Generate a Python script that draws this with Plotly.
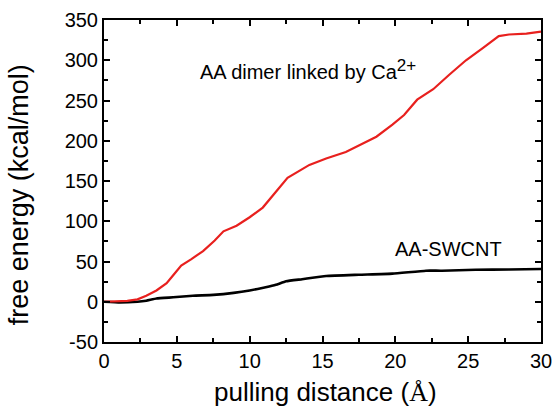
import plotly.graph_objects as go

# Data
ca_x = [0, 1, 1.6, 2.3, 2.9, 3.6, 4.3, 4.75, 5.3, 6.0, 6.8, 7.6, 8.2, 9.1, 10.0, 10.9, 11.8,
        12.6, 14.1, 15.25, 16.6, 17.4, 18.7, 19.8, 20.6, 21.5, 22.6, 23.7, 24.85, 26.0,
        27.1, 27.8, 29.0, 30]
ca_y = [0, 0.5, 1, 3, 7.5, 14, 23, 33, 45, 53, 63, 76, 87.5, 94.5, 105, 117, 136,
        154, 170, 178, 186, 193, 205, 220, 232, 251, 264, 282, 300, 315,
        330, 332, 333, 335.5]

cnt_x = [0, 1.1, 2.3, 2.9, 3.6, 4.75, 6.1, 7.5, 8.9, 10.0, 11.1, 11.8, 12.5, 13.6, 15.25,
         17.5, 19.8, 22.1, 23.2, 25.5, 27.8, 30]
cnt_y = [0, -1, 0, 1.3, 4, 5.5, 7.5, 8.5, 11, 14, 18, 21, 25.4, 28, 32,
         33.6, 35, 38.6, 38.6, 39.8, 40, 40.7]

x_tickvals = [0, 5, 10, 15, 20, 25, 30]
x_ticktext = ["0", "5", "10", "15", "20", "25", "30"]
y_tickvals = [-50, 0, 50, 100, 150, 200, 250, 300, 350]
y_ticktext = ["-50", "0", "50", "100", "150", "200", "250", "300", "350"]

font_main = "Arial, Liberation Sans, sans-serif"

fig = go.Figure()
fig.add_trace(go.Scatter(x=cnt_x, y=cnt_y, mode="lines",
                         line=dict(color="black", width=2.6, shape="spline", smoothing=0.4),
                         showlegend=False))
fig.add_trace(go.Scatter(x=ca_x, y=ca_y, mode="lines",
                         line=dict(color="#e8201e", width=2.2), showlegend=False))

axis_common = dict(
    showgrid=False, zeroline=False, showline=True, linecolor="black", linewidth=2,
    mirror="ticks", ticks="inside", ticklen=6, tickwidth=1.5, tickcolor="black",
    tickfont=dict(family=font_main, size=20, color="black"), automargin=False,
    ticklabeloverflow="allow",
)
fig.update_xaxes(range=[0, 30], tickmode="array", tickvals=x_tickvals, ticktext=x_ticktext,
                 minor=dict(ticks="inside", ticklen=4, tickwidth=1.5, tickcolor="black", dtick=2.5),
                 **axis_common)
fig.update_yaxes(range=[-50, 350], tickmode="array", tickvals=y_tickvals, ticktext=y_ticktext,
                 minor=dict(ticks="inside", ticklen=4, tickwidth=1.5, tickcolor="black", dtick=25),
                 **axis_common)

fig.add_annotation(x=6.45, y=289, xref="x", yref="y", xanchor="left", yanchor="middle",
                   text="AA dimer linked by Ca<sup><span style=\"font-size:17px\">2+</span></sup>",
                   showarrow=False,
                   font=dict(family=font_main, size=20, color="black"))
fig.add_annotation(x=19.85, y=65, xref="x", yref="y", xanchor="left", yanchor="middle",
                   text="AA-SWCNT", showarrow=False,
                   font=dict(family=font_main, size=20, color="black"))
fig.add_annotation(x=0.508, y=-0.155, xref="paper", yref="paper", xanchor="center", yanchor="middle",
                   text="pulling distance (<span style=\"font-family:Liberation Serif\">Å</span>)",
                   showarrow=False, font=dict(family=font_main, size=26, color="black"))
fig.add_annotation(x=-0.194, y=0.4565, xref="paper", yref="paper", xanchor="center", yanchor="middle",
                   text="free energy (kcal/mol)", textangle=-90,
                   showarrow=False, font=dict(family=font_main, size=27, color="black"))

fig.update_layout(
    width=552, height=408,
    margin=dict(l=104, r=11, t=20, b=66),
    paper_bgcolor="white", plot_bgcolor="white",
)

fig.write_html("out.html")
